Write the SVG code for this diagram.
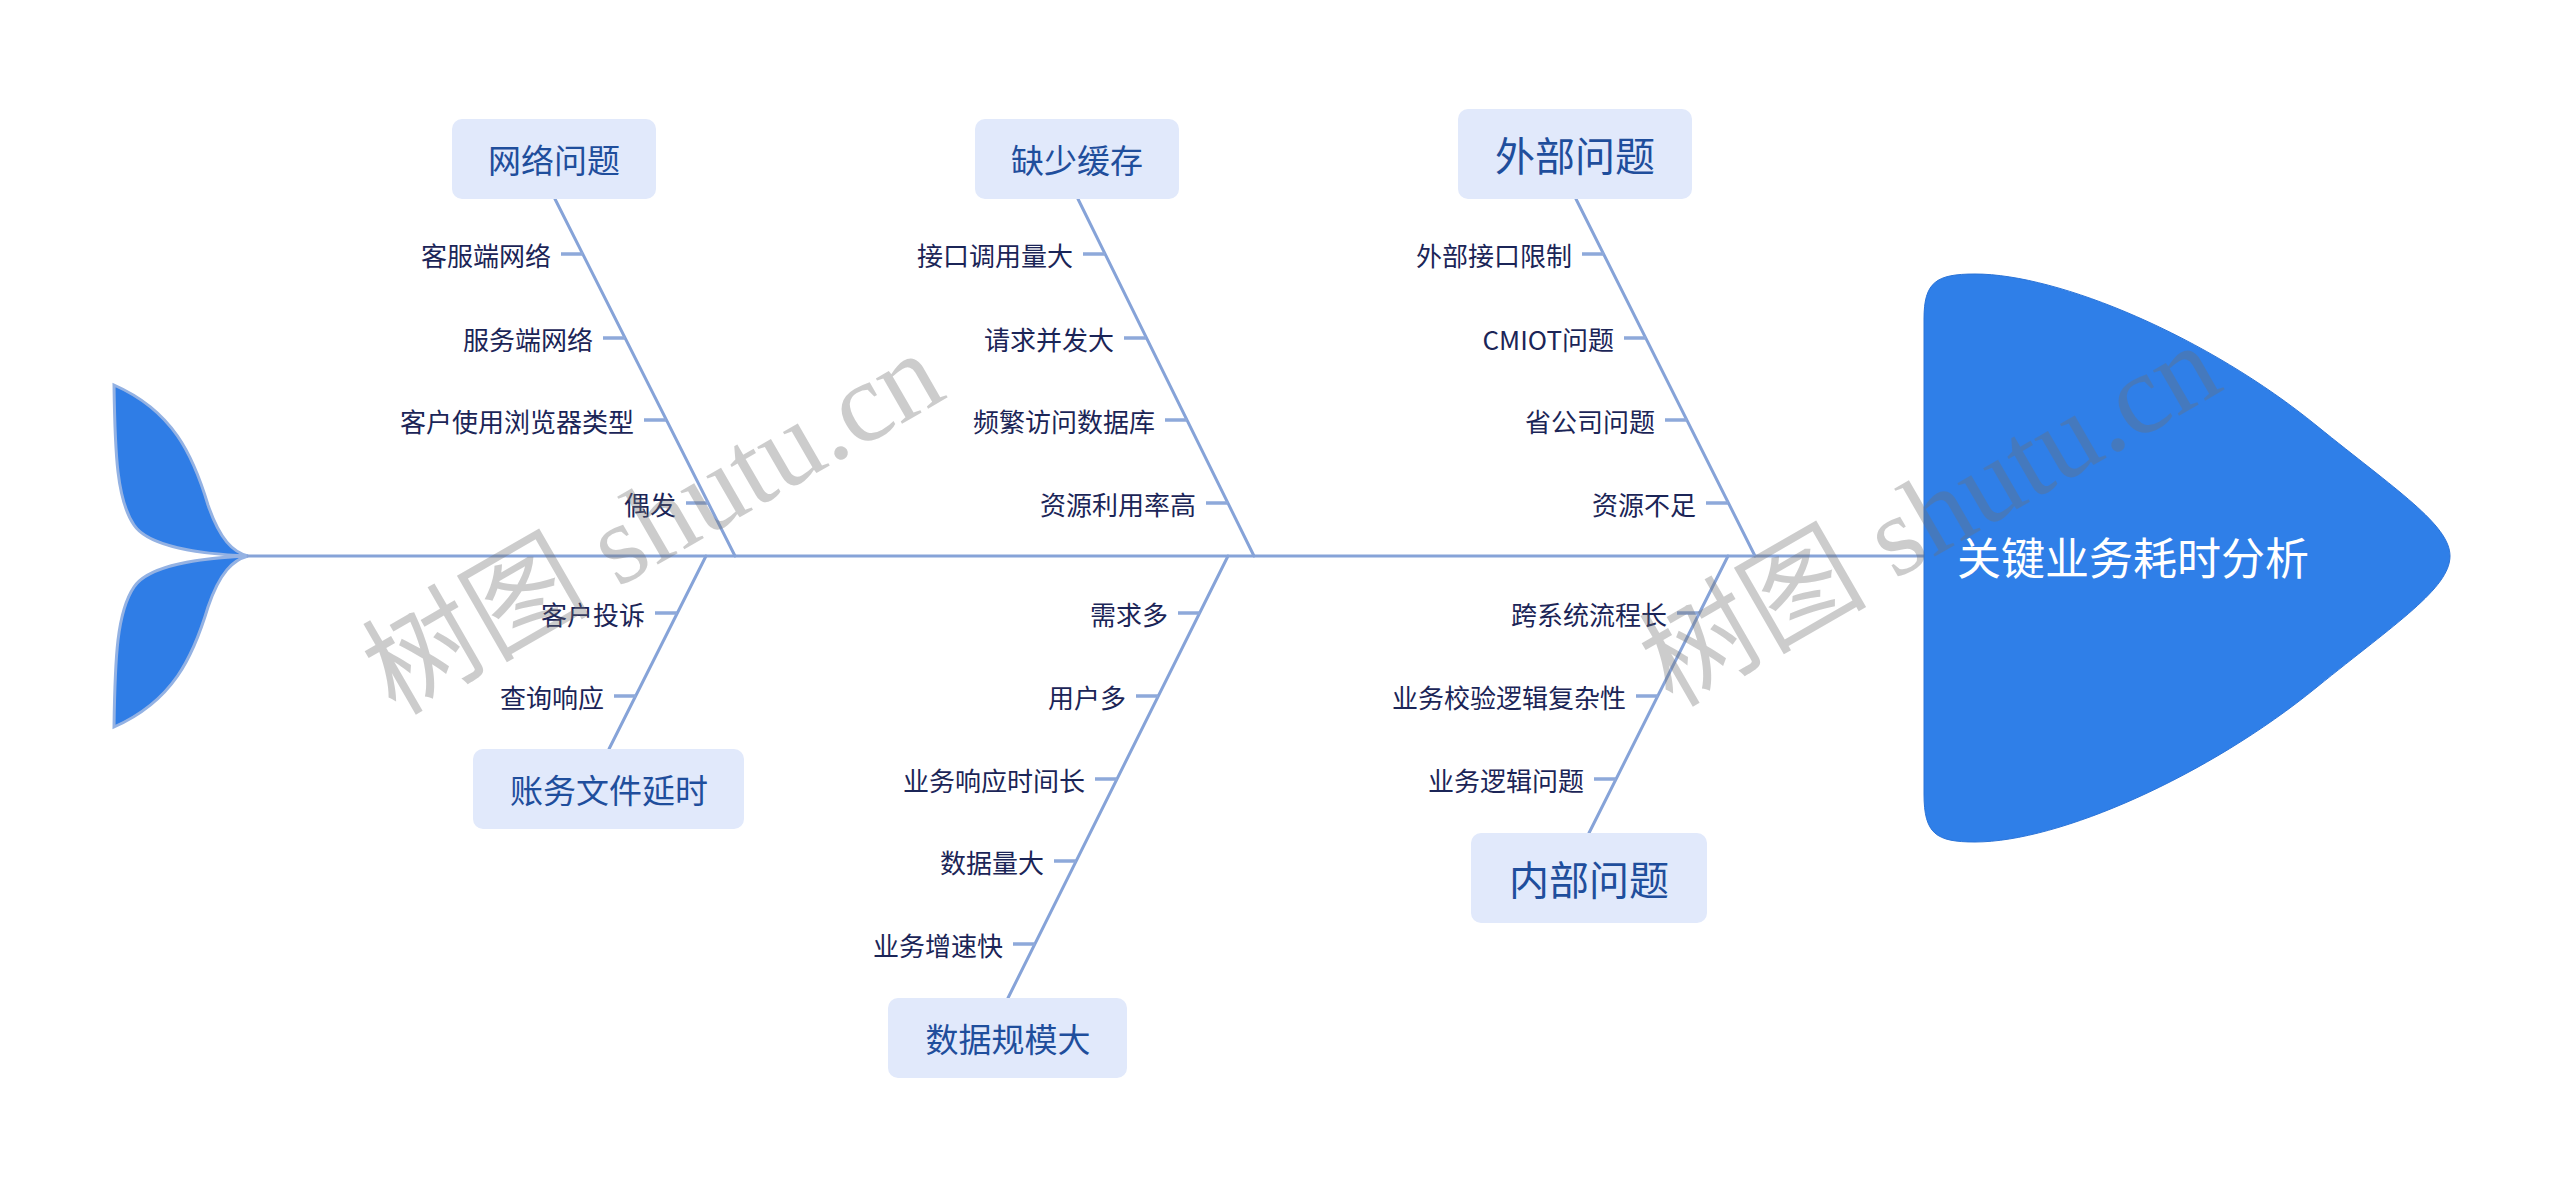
<svg xmlns="http://www.w3.org/2000/svg" width="2560" height="1189" viewBox="0 0 2560 1189">
<style>
.bone{stroke:#86a3d8;stroke-width:3;fill:none;stroke-linecap:round}
.tick{stroke:#8ea9da;stroke-width:3.5;fill:none}
.box{fill:#e1e9fb}
.bt{font-family:"Noto Sans CJK SC","Noto Sans",sans-serif;font-size:33px;fill:#1f4e9c;text-anchor:middle;dominant-baseline:central}
.bt2{font-size:40px}
.st{font-family:"Noto Sans CJK SC","Noto Sans",sans-serif;font-size:26px;fill:#1b2557;text-anchor:end;dominant-baseline:central}
.fin{fill:#2f7de6;stroke:#94b2e3;stroke-width:3}
.wm{font-family:"Liberation Serif","Noto Sans CJK SC",serif;font-size:114px;fill:#707070;opacity:0.35;text-anchor:middle;dominant-baseline:central}
</style>
<rect width="2560" height="1189" fill="#ffffff"/>
<g id="tail">
<path class="fin" d="M 114,385 C 173,411 193,455 208,505 C 220,540 233,552 248,556 C 198,554 148,546 134,525 C 117,500 115,455 114,385 Z"/>
<path class="fin" d="M 114,727 C 173,701 193,657 208,607 C 220,572 233,560 248,556 C 198,558 148,566 134,587 C 117,612 115,657 114,727 Z"/>
</g>
<g id="connectors">
<line class="bone" x1="248" y1="556" x2="1926" y2="556"/>
<line class="bone" x1="555" y1="199" x2="735" y2="556"/>
<line class="bone" x1="1078" y1="199" x2="1254" y2="556"/>
<line class="bone" x1="1576" y1="199" x2="1755" y2="556"/>
<line class="bone" x1="706" y1="556" x2="609" y2="749"/>
<line class="bone" x1="1228" y1="556" x2="1008" y2="998"/>
<line class="bone" x1="1728" y1="556" x2="1589" y2="833"/>
<line class="tick" x1="561" y1="254" x2="583" y2="254"/>
<line class="tick" x1="603" y1="338" x2="625" y2="338"/>
<line class="tick" x1="644" y1="420" x2="666" y2="420"/>
<line class="tick" x1="686" y1="503" x2="708" y2="503"/>
<line class="tick" x1="1083" y1="254" x2="1105" y2="254"/>
<line class="tick" x1="1124" y1="338" x2="1146" y2="338"/>
<line class="tick" x1="1165" y1="420" x2="1187" y2="420"/>
<line class="tick" x1="1206" y1="503" x2="1228" y2="503"/>
<line class="tick" x1="1582" y1="254" x2="1604" y2="254"/>
<line class="tick" x1="1624" y1="338" x2="1646" y2="338"/>
<line class="tick" x1="1665" y1="420" x2="1687" y2="420"/>
<line class="tick" x1="1706" y1="503" x2="1728" y2="503"/>
<line class="tick" x1="655" y1="613" x2="677" y2="613"/>
<line class="tick" x1="614" y1="696" x2="636" y2="696"/>
<line class="tick" x1="1178" y1="613" x2="1200" y2="613"/>
<line class="tick" x1="1136" y1="696" x2="1158" y2="696"/>
<line class="tick" x1="1095" y1="779" x2="1117" y2="779"/>
<line class="tick" x1="1054" y1="861" x2="1076" y2="861"/>
<line class="tick" x1="1013" y1="944" x2="1035" y2="944"/>
<line class="tick" x1="1677" y1="613" x2="1699" y2="613"/>
<line class="tick" x1="1636" y1="696" x2="1658" y2="696"/>
<line class="tick" x1="1594" y1="779" x2="1616" y2="779"/>
</g>
<g id="head">
<path fill="#2f7fe8" stroke="#2b74d8" stroke-width="1" d="M 1924,319 C 1924,282 1936,274 1975,274 C 2059,274 2208,337 2317,426 C 2396,490 2450,525 2450,556 C 2450,588 2396,623 2317,687 C 2208,776 2059,842 1975,842 C 1936,842 1924,834 1924,794 Z"/>
<text x="2133" y="556" font-family="Noto Sans CJK SC,Noto Sans,sans-serif" font-size="44" fill="#ffffff" text-anchor="middle" dominant-baseline="central">关键业务耗时分析</text>
</g>
<g id="n1">
<rect class="box" x="452" y="119" width="204" height="80" rx="10"/>
<text class="bt" x="554" y="159">网络问题</text>
<text class="st" x="551" y="254">客服端网络</text>
<text class="st" x="593" y="338">服务端网络</text>
<text class="st" x="634" y="420">客户使用浏览器类型</text>
<text class="st" x="676" y="503">偶发</text>
</g>
<g id="n2">
<rect class="box" x="975" y="119" width="204" height="80" rx="10"/>
<text class="bt" x="1077" y="159">缺少缓存</text>
<text class="st" x="1073" y="254">接口调用量大</text>
<text class="st" x="1114" y="338">请求并发大</text>
<text class="st" x="1155" y="420">频繁访问数据库</text>
<text class="st" x="1196" y="503">资源利用率高</text>
</g>
<g id="n3">
<rect class="box" x="1458" y="109" width="234" height="90" rx="10"/>
<text class="bt bt2" x="1575" y="154">外部问题</text>
<text class="st" x="1572" y="254">外部接口限制</text>
<text class="st" x="1614" y="338">CMIOT问题</text>
<text class="st" x="1655" y="420">省公司问题</text>
<text class="st" x="1696" y="503">资源不足</text>
</g>
<g id="n4">
<rect class="box" x="473" y="749" width="271" height="80" rx="10"/>
<text class="bt" x="609" y="789">账务文件延时</text>
<text class="st" x="645" y="613">客户投诉</text>
<text class="st" x="604" y="696">查询响应</text>
</g>
<g id="n5">
<rect class="box" x="888" y="998" width="239" height="80" rx="10"/>
<text class="bt" x="1008" y="1038">数据规模大</text>
<text class="st" x="1168" y="613">需求多</text>
<text class="st" x="1126" y="696">用户多</text>
<text class="st" x="1085" y="779">业务响应时间长</text>
<text class="st" x="1044" y="861">数据量大</text>
<text class="st" x="1003" y="944">业务增速快</text>
</g>
<g id="n6">
<rect class="box" x="1471" y="833" width="236" height="90" rx="10"/>
<text class="bt bt2" x="1589" y="878">内部问题</text>
<text class="st" x="1667" y="613">跨系统流程长</text>
<text class="st" x="1626" y="696">业务校验逻辑复杂性</text>
<text class="st" x="1584" y="779">业务逻辑问题</text>
</g>
<g id="watermark">
<text class="wm" transform="translate(653,523) rotate(-30)">树图 shutu.cn</text>
<text class="wm" transform="translate(1930,515) rotate(-30)">树图 shutu.cn</text>
</g>
</svg>
